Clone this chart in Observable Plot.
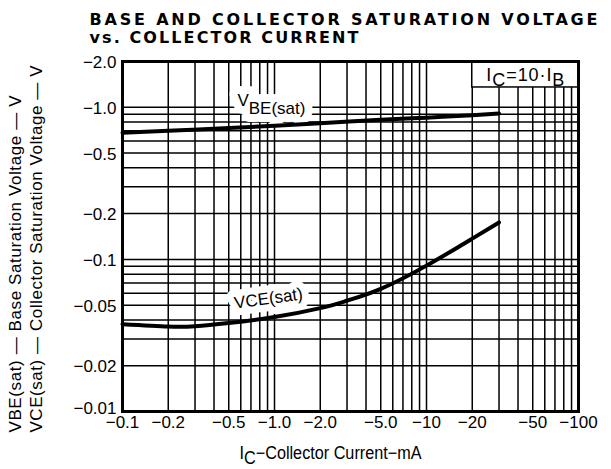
<!DOCTYPE html>
<html><head><meta charset="utf-8">
<script src="https://cdn.jsdelivr.net/npm/d3@7"></script>
<script src="https://cdn.jsdelivr.net/npm/@observablehq/plot@0.6"></script>
<style>html,body{margin:0;padding:0;background:#fff}svg{display:block}</style>
</head><body><div id="chart"></div>
<script>
// ---- data ----
const titleLine1 = "BASE AND COLLECTOR SATURATION VOLTAGE";
const titleLine2 = "vs. COLLECTOR CURRENT";
const yLabel1 = "VBE(sat) \u2014 Base Saturation Voltage \u2014 V";
const yLabel2 = "VCE(sat) \u2014 Collector Saturation Voltage \u2014 V";
const xLabel = "I_{C}\u2212Collector Current\u2212mA";
const condition = "I_{C}=10\u00b7I_{B}";
const vbeName = "V_{BE(sat)}";
const vceName = "VCE(sat)";

const xGrid = [0.1,0.2,0.3,0.4,0.5,0.6,0.7,0.8,0.9,1,2,3,4,5,6,7,8,9,10,20,30,40,50,60,70,80,90,100];
const yGrid = [0.01,0.02,0.03,0.04,0.05,0.06,0.07,0.08,0.09,0.1,0.2,0.3,0.4,0.5,0.6,0.7,0.8,0.9,1,2];
const xTicks = [0.1,0.2,0.5,1,2,5,10,20,50,100];
const xTickLabels = ["\u22120.1","\u22120.2","\u22120.5","\u22121.0","\u22122.0","\u22125.0","\u221210","\u221220","\u221250","\u2212100"];
const yTicks = [0.01,0.02,0.05,0.1,0.2,0.5,1,2];
const yTickLabels = ["\u22120.01","\u22120.02","\u22120.05","\u22120.1","\u22120.2","\u22120.5","\u22121.0","\u22122.0"];

const icVbe = [0.1,0.2,0.5,1,2,5,10,20,30];
const vbe   = [0.68,0.70,0.73,0.755,0.785,0.828,0.855,0.888,0.91];
const icVce = [0.1,0.2,0.3,0.5,1,2,3,5,10,20,30];
const vce   = [0.0375,0.0362,0.0364,0.0382,0.0418,0.0478,0.0535,0.064,0.091,0.137,0.175];

// ---- tables ----
const vbeRows = icVbe.map((x,i)=>({x, y:vbe[i]}));
const vceRows = icVce.map((x,i)=>({x, y:vce[i]}));
const xTickRows = xTicks.map((v,i)=>({v, label:xTickLabels[i]}));
const yTickRows = yTicks.map((v,i)=>({v, label:yTickLabels[i]}));
const yTickMain = yTickRows.filter(d => d.v !== yTicks[0]);
const yTickBottom = yTickRows.filter(d => d.v === yTicks[0]);

const FONT = "'Liberation Sans', Arial, Helvetica, sans-serif";
const BOLD = "'DejaVu Sans', 'Liberation Sans', Arial, sans-serif";
const halo = {fill: "white", stroke: "white", strokeLinejoin: "round"};

const svg = Plot.plot({
  width: 611, height: 469,
  marginLeft: 122, marginRight: 33, marginTop: 61, marginBottom: 58,
  style: {fontFamily: FONT, fontSize: "17px", background: "white", color: "black"},
  x: {type: "log", domain: [0.1, 100], axis: null},
  y: {type: "log", domain: [0.01, 2], axis: null},
  marks: [
    Plot.ruleX(xGrid, {stroke: "black", strokeWidth: 1.5}),
    Plot.ruleY(yGrid, {stroke: "black", strokeWidth: 1.5}),
    Plot.rect([condition], {x1: 20, x2: 100, y1: 1.35, y2: 2, fill: "white", stroke: "black", strokeWidth: 1.5}),
    Plot.text([condition], {x: 44.7, y: 1.627, text: d=>d, fontSize: 18, fill: "black"}),
    // label backgrounds
    Plot.text([vbeName], {x: 0.57, y: 1.11, text: d=>d, textAnchor: "start", fontSize: 17, ...halo, strokeWidth: 16}),
    Plot.text([vceName], {x: 0.913, y: 0.0552, text: d=>d, rotate: -8, fontSize: 17, ...halo, strokeWidth: 14}),
    // labels
    Plot.text([vbeName], {x: 0.57, y: 1.11, text: d=>d, textAnchor: "start", fontSize: 17, fill: "black"}),
    Plot.text([vceName], {x: 0.913, y: 0.0552, text: d=>d, rotate: -8, fontSize: 17, fill: "black"}),
    Plot.line(vbeRows, {x: "x", y: "y", stroke: "black", strokeWidth: 4, curve: "natural"}),
    Plot.line(vceRows, {x: "x", y: "y", stroke: "black", strokeWidth: 4, curve: "natural"}),
    Plot.frame({stroke: "black", strokeWidth: 3}),
    // tick labels
    Plot.text(xTickRows, {x: "v", text: "label", frameAnchor: "bottom", dy: 16, fontSize: 17, fill: "black"}),
    Plot.text(yTickMain, {y: "v", text: "label", frameAnchor: "left", dx: -6, dy: 1, textAnchor: "end", fontSize: 17, fill: "black"}),
    Plot.text(yTickBottom, {y: "v", text: "label", frameAnchor: "left", dx: -6, dy: -3, textAnchor: "end", fontSize: 17, fill: "black"}),
    // axis titles
    Plot.text([xLabel], {frameAnchor: "bottom", dx: -20, dy: 47, text: d=>d, fontSize: 18, fill: "black"}),
    Plot.text([yLabel1], {frameAnchor: "bottom-left", dx: -102, dy: 21, rotate: -90, textAnchor: "start", text: d=>d, fontSize: 17, fill: "black"}),
    Plot.text([yLabel2], {frameAnchor: "bottom-left", dx: -81, dy: 21, rotate: -90, textAnchor: "start", text: d=>d, fontSize: 17, fill: "black"}),
    // title
    Plot.text([titleLine1], {frameAnchor: "top-left", dx: -33, dy: -47.5, textAnchor: "start", text: d=>d, fontFamily: BOLD, fontSize: 16, fontWeight: "bold", fill: "black"}),
    Plot.text([titleLine2], {frameAnchor: "top-left", dx: -33, dy: -30, textAnchor: "start", text: d=>d, fontFamily: BOLD, fontSize: 16, fontWeight: "bold", fill: "black"})
  ]
});
document.getElementById("chart").append(svg);

// ---- post-process: fitted text widths and subscripts ----
const fitLengths = new Map([[titleLine1, [508, "spacing"]], [titleLine2, [269, "spacing"]], [yLabel1, [337, "spacing"]], [yLabel2, [367, "spacing"]], [xLabel, [182, "spacingAndGlyphs"]], [condition, [78, "spacing"]]]);
const subShift = new Map([[vbeName, 0.5], [xLabel, 0.3], [condition, 0.3]]);
d3.select(svg).selectAll("text").each(function() {
  const t = this.textContent;
  if (fitLengths.has(t)) {
    const [len, adj] = fitLengths.get(t);
    this.setAttribute("textLength", len);
    this.setAttribute("lengthAdjust", adj);
  }
  if (t.includes("_{")) {
    const s = subShift.get(t) || 0.3;
    const parts = t.split(/(_\{[^}]*\})/).filter(p => p);
    this.textContent = "";
    let shifted = false;
    for (const p of parts) {
      const ts = d3.select(this).append("tspan");
      if (p.startsWith("_{")) { ts.text(p.slice(2, -1)); if (!shifted) ts.attr("dy", s + "em"); shifted = true; }
      else { ts.text(p); if (shifted) { ts.attr("dy", (-s) + "em"); shifted = false; } }
    }
  }
});
</script></body></html>
